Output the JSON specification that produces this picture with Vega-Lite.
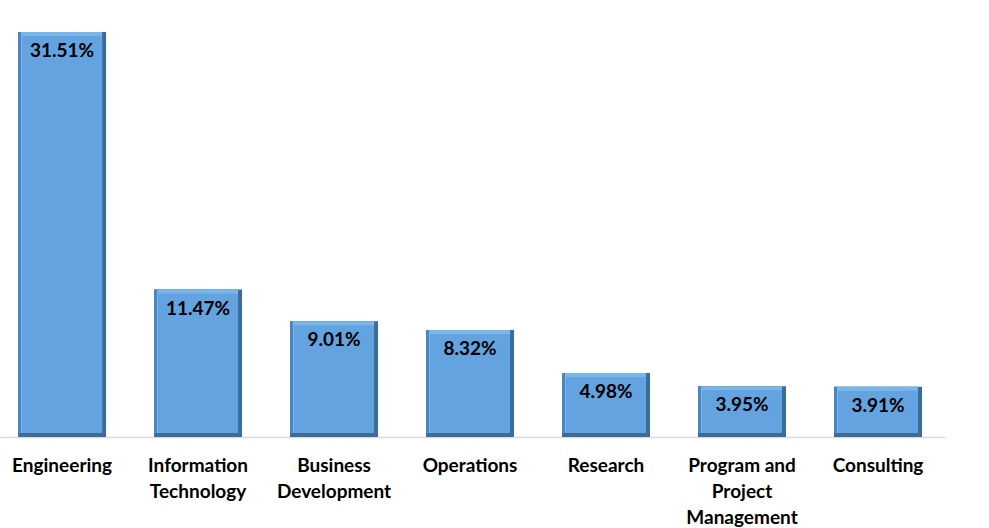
{
  "$schema": "https://vega.github.io/schema/vega-lite/v6.json",
  "width": 945,
  "height": 437,
  "autosize": "none",
  "padding": {"left": 0, "top": 0, "right": 44, "bottom": 91},
  "background": "white",
  "config": {"view": {"stroke": null}, "font": "Lato"},
  "data": {"values": [
    {"category": "Engineering", "pct": 31.51, "label": "31.51%"},
    {"category": "Information Technology", "pct": 11.47, "label": "11.47%"},
    {"category": "Business Development", "pct": 9.01, "label": "9.01%"},
    {"category": "Operations", "pct": 8.32, "label": "8.32%"},
    {"category": "Research", "pct": 4.98, "label": "4.98%"},
    {"category": "Program and Project Management", "pct": 3.95, "label": "3.95%"},
    {"category": "Consulting", "pct": 3.91, "label": "3.91%"}
  ]},
  "encoding": {
    "x": {"field": "category", "type": "nominal", "sort": null,
      "scale": {"paddingInner": 0.353, "paddingOuter": 0.151, "align": 0.44},
      "axis": {"title": null, "labelAngle": 0, "ticks": false, "domainColor": "#d9d9d9", "domainWidth": 1.5,
        "labelFont": "Lato", "labelFontWeight": "bold", "labelFontSize": 19, "labelColor": "#000000",
        "labelBaseline": "top", "labelPadding": 19, "labelLineHeight": 26, "labelLimit": 200,
        "labelExpr": "datum.value == 'Program and Project Management' ? ['Program and','Project','Management'] : datum.value == 'Information Technology' ? ['Information','Technology'] : datum.value == 'Business Development' ? ['Business','Development'] : datum.value"}},
    "y": {"field": "pct", "type": "quantitative", "stack": null, "scale": {"domain": [0, 34], "nice": false, "zero": true}, "axis": null}
  },
  "layer": [
    {"mark": {"type": "bar", "width": 88, "color": "#3E6C98"}, "encoding": {"y2": {"datum": 0}}},
    {"mark": {"type": "bar", "width": 84, "xOffset": -2, "y2Offset": -4, "color": "#4C87C2"}, "encoding": {"y2": {"datum": 0}}},
    {"mark": {"type": "bar", "width": 81, "xOffset": -0.5, "y2Offset": -4, "color": "#7AB6EA"}, "encoding": {"y2": {"datum": 0}}},
    {"mark": {"type": "bar", "width": 80, "yOffset": 4, "y2Offset": -4, "color": "#62A3E0"}, "encoding": {"y2": {"datum": 0}}},
    {"mark": {"type": "text", "baseline": "middle", "align": "center", "dy": 19, "font": "Lato", "fontWeight": "bold", "fontSize": 19, "color": "#000000"},
     "encoding": {"text": {"field": "label", "type": "nominal"}}}
  ]
}
